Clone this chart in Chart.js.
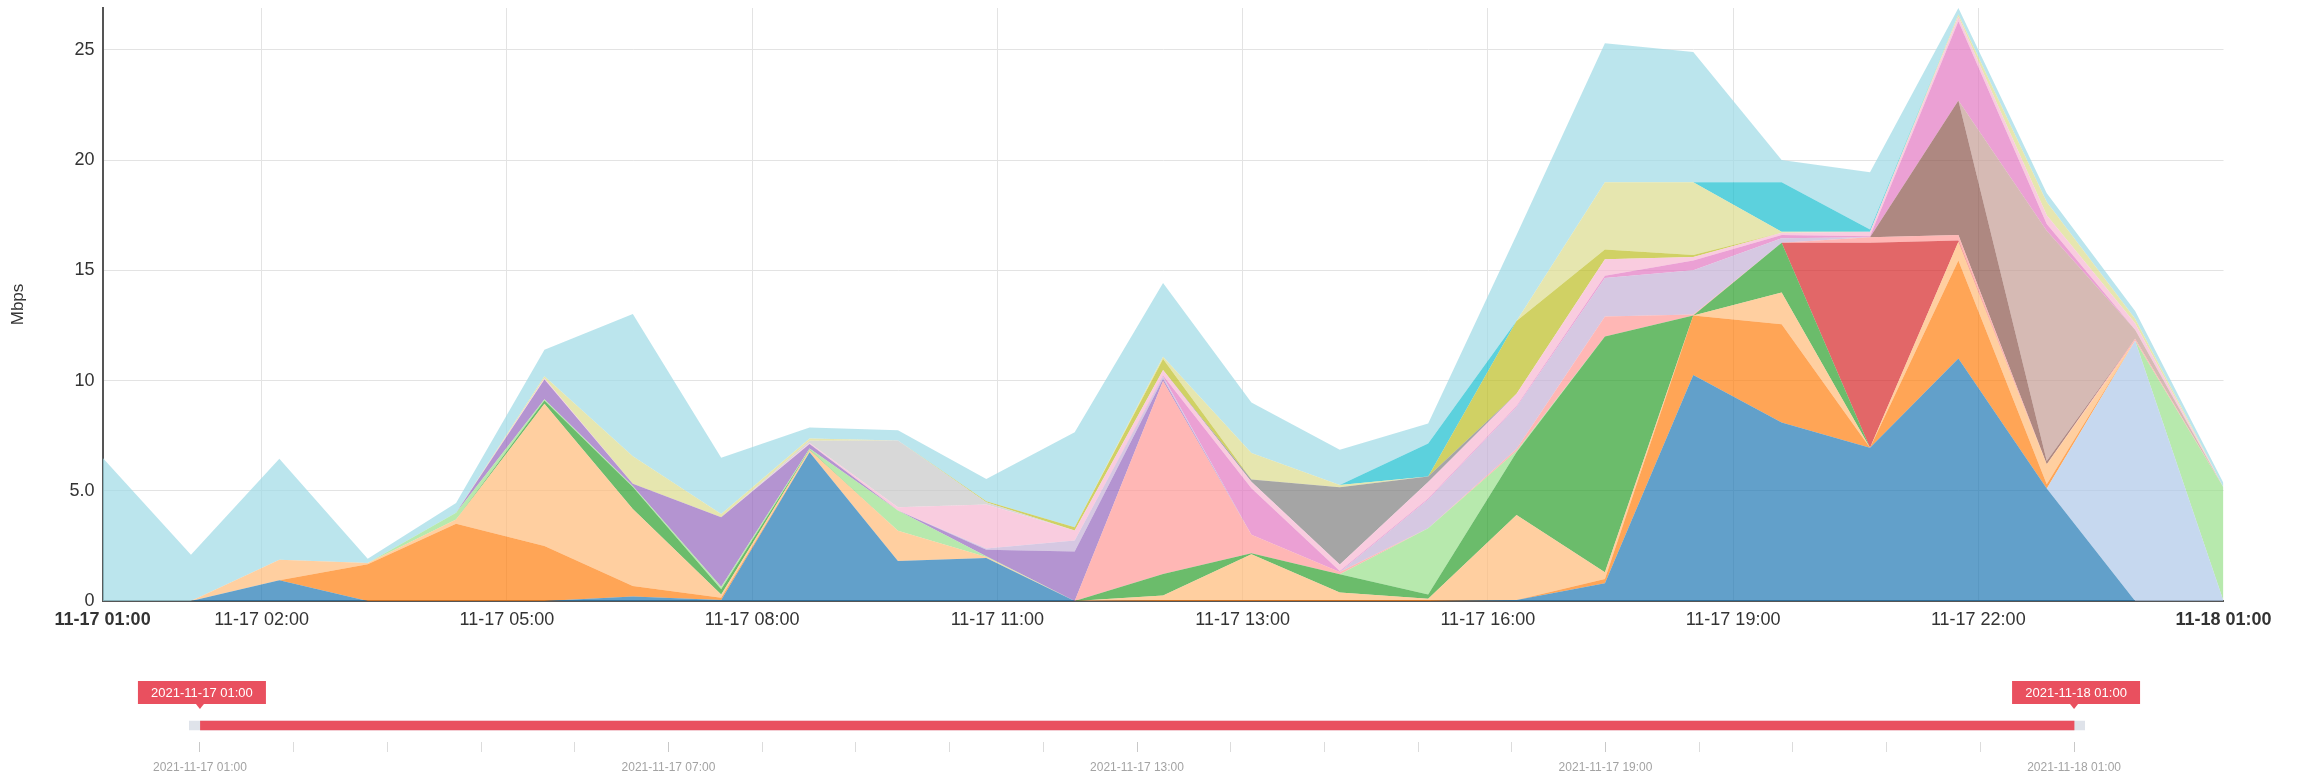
<!DOCTYPE html>
<html>
<head>
<meta charset="utf-8">
<script src="https://cdn.jsdelivr.net/npm/chart.js@4.4.0/dist/chart.umd.min.js"></script>
<style>
  html, body { margin: 0; padding: 0; background: #fff; }
  #wrap { position: relative; width: 2298px; height: 777px; }
  #main { position: absolute; left: 0; top: 0; }
  #zoom { position: absolute; left: 0; top: 650px; }
</style>
</head>
<body>
<div id="wrap">
  <canvas id="main" width="2298" height="650"></canvas>
  <canvas id="zoom" width="2298" height="127"></canvas>
</div>
<script>
// hours after 2021-11-17 01:00, one sample per hour
const hours = [0, 1, 2, 3, 4, 5, 6, 7, 8, 9, 10, 11, 12, 13, 14, 15, 16, 17, 18, 19, 20, 21, 22, 23, 24];

// x axis ticks (time axis splits the day in equal steps, labels show the hour)
const tickHours = [0, 1.8, 4.575, 7.35, 10.125, 12.9, 15.675, 18.45, 21.225, 24];
const tickLabels = ['11-17 01:00', '11-17 02:00', '11-17 05:00', '11-17 08:00', '11-17 11:00',
                    '11-17 13:00', '11-17 16:00', '11-17 19:00', '11-17 22:00', '11-18 01:00'];
const yTicks = [0, 5, 10, 15, 20, 25];

// data zoom slider
const rangeHours = [0, 24];
const rangeLabels = ['2021-11-17 01:00', '2021-11-18 01:00'];
const zoomTickHours = [0, 1.2, 2.4, 3.6, 4.8, 6, 7.2, 8.4, 9.6, 10.8, 12, 13.2, 14.4, 15.6, 16.8, 18, 19.2, 20.4, 21.6, 22.8, 24];
const zoomLabels = ['2021-11-17 01:00', '2021-11-17 07:00', '2021-11-17 13:00', '2021-11-17 19:00', '2021-11-18 01:00'];

// stacked series, bottom to top (Mbps)
const s01 = [0, 0, 0.94, 0, 0, 0, 0.2, 0.05, 6.75, 1.82, 1.95, 0, 0, 0, 0, 0, 0.05, 0.8, 10.25, 8.1, 6.95, 11.0, 5.1, 0, 0];
const s02 = [0, 0, 0, 0, 0, 0, 0, 0, 0, 0, 0, 0, 0, 0, 0, 0, 0, 0, 0, 0, 0, 0, 0, 11.8, 0];
const s03 = [0, 0, 0, 1.67, 3.5, 2.5, 0.48, 0.1, 0, 0, 0, 0, 0.05, 0.05, 0.05, 0.05, 0, 0.2, 2.7, 4.45, 0, 4.45, 0.2, 0, 0];
const s04 = [0, 0, 0.93, 0.05, 0.2, 6.45, 3.49, 0.15, 0.1, 1.37, 0.05, 0, 0.2, 2.07, 0.33, 0.05, 3.85, 0.3, 0, 1.45, 0, 0.85, 0.9, 0, 0];
const s05 = [0, 0, 0, 0, 0, 0.15, 1.0, 0.23, 0.02, 0, 0, 0, 0.98, 0.05, 0.83, 0.2, 2.85, 10.7, 0, 2.25, 0, 0, 0, 0, 0];
const s06 = [0, 0, 0, 0, 0.3, 0.05, 0.05, 0.12, 0.05, 0.91, 0.03, 0, 0, 0, 0, 3.0, 0.05, 0, 0, 0, 0, 0, 0, 0, 5.15];
const s07 = [0, 0, 0, 0, 0, 0, 0, 0, 0, 0, 0, 0, 0, 0, 0, 0, 0, 0, 0, 0, 9.3, 0.05, 0, 0, 0];
const s08 = [0, 0, 0, 0, 0, 0, 0, 0, 0, 0, 0, 0, 8.75, 0.84, 0.1, 0, 0.1, 0.9, 0.05, 0, 0.25, 0.25, 0, 0.1, 0];
const s09 = [0, 0, 0, 0, 0, 0.9, 0.1, 3.15, 0.2, 0, 0.3, 2.25, 0.1, 0, 0, 0, 0, 0, 0, 0, 0, 0, 0, 0, 0];
const s10 = [0, 0, 0, 0, 0, 0, 0, 0, 0, 0, 0.05, 0.5, 0.1, 0, 0, 1.3, 1.9, 1.75, 2.0, 0.2, 0, 0, 0, 0, 0];
const s11 = [0, 0, 0, 0, 0, 0, 0, 0, 0, 0, 0, 0, 0, 0, 0, 0, 0, 0, 0, 0, 0, 6.1, 0.15, 0, 0];
const s12 = [0, 0, 0, 0, 0, 0, 0, 0, 0, 0, 0, 0, 0, 0, 0, 0, 0, 0, 0, 0, 0, 0, 10.45, 0.4, 0];
const s13 = [0, 0, 0, 0, 0, 0, 0, 0, 0, 0, 0, 0, 0.05, 2.1, 0.05, 0.05, 0.05, 0.1, 0.45, 0.15, 0.05, 3.6, 0.3, 0, 0];
const s14 = [0, 0, 0, 0, 0, 0.05, 0, 0, 0.05, 0.15, 2.0, 0.45, 0.25, 0.3, 0.3, 0.75, 0.55, 0.75, 0.15, 0.1, 0.2, 0.2, 0.4, 0.3, 0];
const s15 = [0, 0, 0, 0, 0, 0, 0, 0, 0, 0, 0, 0, 0, 0.1, 3.5, 0.25, 0, 0, 0, 0, 0, 0, 0, 0, 0];
const s16 = [0, 0, 0, 0, 0, 0, 0, 0, 0.1, 3.03, 0.1, 0, 0, 0, 0, 0, 0, 0, 0, 0, 0, 0, 0, 0, 0];
const s17 = [0, 0, 0, 0, 0, 0, 0, 0, 0, 0, 0.05, 0.15, 0.5, 0, 0, 0, 3.3, 0.45, 0.1, 0, 0, 0, 0, 0, 0];
const s18 = [0, 0, 0, 0, 0, 0.1, 1.25, 0.15, 0.1, 0, 0, 0, 0.1, 1.2, 0.1, 0, 0, 3.05, 3.3, 0.05, 0, 0.1, 0.6, 0.2, 0];
const s19 = [0, 0, 0, 0, 0, 0, 0, 0, 0, 0, 0, 0, 0, 0, 0, 1.5, 0, 0, 0, 2.25, 0.1, 0, 0, 0, 0];
const s20 = [6.5, 2.1, 4.58, 0.2, 0.45, 1.2, 6.45, 2.55, 0.5, 0.46, 1.0, 4.3, 3.34, 2.3, 1.6, 0.9, 3.9, 6.3, 5.9, 1.0, 2.6, 0.3, 0.4, 0.35, 0.2];

const series = [s01, s02, s03, s04, s05, s06, s07, s08, s09, s10, s11, s12, s13, s14, s15, s16, s17, s18, s19, s20];

// category20 palette, drawn at 0.7 opacity
const palette = ['31,119,180', '174,199,232', '255,127,14', '255,187,120', '44,160,44', '152,223,138',
                 '214,39,40', '255,152,150', '148,103,189', '197,176,213', '140,86,75', '196,156,148',
                 '227,119,194', '247,182,210', '127,127,127', '199,199,199', '188,189,34', '219,219,141',
                 '23,190,207', '158,218,229'];

Chart.defaults.font.family = '"Liberation Sans", Arial, sans-serif';

const yMax = Math.max(...hours.map((h, j) => series.reduce((a, s) => a + s[j], 0)));
const lastTick = tickHours.length - 1;

new Chart(document.getElementById('main'), {
    type: 'line',
    data: {
        datasets: series.map((s, i) => ({
            label: 'series ' + (i + 1),
            data: s.map((v, j) => ({ x: hours[j], y: v })),
            backgroundColor: 'rgba(' + palette[i] + ',0.7)',
            borderColor: 'rgba(0,0,0,0)',
            borderWidth: 0,
            pointRadius: 0,
            tension: 0,
            fill: i === 0 ? 'origin' : '-1'
        }))
    },
    options: {
        responsive: false,
        animation: false,
        layout: { padding: { left: 0, right: 74.5, top: 8, bottom: 0 } },
        plugins: {
            legend: { display: false },
            tooltip: { enabled: false }
        },
        scales: {
            x: {
                type: 'linear',
                min: 0,
                max: 24,
                afterBuildTicks: s => { s.ticks = tickHours.map(v => ({ value: v })); },
                afterFit: s => { s.height = 49; },
                ticks: {
                    autoSkip: false,
                    maxRotation: 0,
                    padding: 8,
                    color: '#333',
                    font: ctx => ({ size: 18, weight: (ctx.index === 0 || ctx.index === lastTick) ? 'bold' : 'normal' }),
                    callback: (v, i) => tickLabels[i]
                },
                grid: {
                    drawTicks: false,
                    color: ctx => (ctx.index === 0 || ctx.index === lastTick) ? 'rgba(0,0,0,0)' : '#e3e3e3'
                },
                border: { color: '#555', width: 2 }
            },
            y: {
                stacked: true,
                min: 0,
                max: yMax,
                afterBuildTicks: s => { s.ticks = yTicks.map(v => ({ value: v })); },
                afterFit: s => { s.width = 102.6; s.paddingTop = 0; s.paddingBottom = 0; },
                ticks: {
                    padding: 8,
                    color: '#333',
                    font: { size: 18 },
                    callback: v => v === 5 ? '5.0' : String(v)
                },
                grid: {
                    drawTicks: false,
                    color: ctx => (ctx.tick && ctx.tick.value === 0) ? 'rgba(0,0,0,0)' : '#e3e3e3'
                },
                border: { color: '#555', width: 2 },
                title: {
                    display: true,
                    text: 'Mbps',
                    color: '#333',
                    font: { size: 17 },
                    padding: { top: 8, bottom: 0 }
                }
            }
        }
    }
});

// red range labels above the slider handles
const rangePins = {
    id: 'rangePins',
    afterDraw(chart) {
        const { ctx, scales: { x } } = chart;
        ctx.save();
        rangeHours.forEach((h, i) => {
            const px = x.getPixelForValue(h);
            const w = 128, hgt = 23, top = 31;
            ctx.fillStyle = '#e9505f';
            ctx.fillRect(px - w / 2 + 2, top, w, hgt);
            ctx.beginPath();
            ctx.moveTo(px - 4, top + hgt);
            ctx.lineTo(px + 4, top + hgt);
            ctx.lineTo(px, top + hgt + 5);
            ctx.closePath();
            ctx.fill();
            ctx.fillStyle = '#fff';
            ctx.font = '13px "Liberation Sans", Arial, sans-serif';
            ctx.textAlign = 'center';
            ctx.textBaseline = 'middle';
            ctx.fillText(rangeLabels[i], px + 2, top + hgt / 2 + 1);
        });
        ctx.restore();
    }
};

new Chart(document.getElementById('zoom'), {
    type: 'bar',
    data: {
        labels: ['range'],
        datasets: [
            { data: [[rangeHours[0], rangeHours[1]]], backgroundColor: '#e9505f', barThickness: 9 },
            { data: [[-0.14, 24.14]], backgroundColor: '#dfe3ea', barThickness: 9 }
        ]
    },
    options: {
        indexAxis: 'y',
        responsive: false,
        animation: false,
        datasets: { bar: { grouped: false } },
        layout: { padding: { left: 189, right: 213, top: 59, bottom: 0 } },
        plugins: {
            legend: { display: false },
            tooltip: { enabled: false }
        },
        scales: {
            y: { display: false },
            x: {
                type: 'linear',
                min: -0.14,
                max: 24.14,
                afterBuildTicks: s => { s.ticks = zoomTickHours.map(v => ({ value: v })); },
                afterFit: s => { s.height = 35; },
                ticks: {
                    autoSkip: false,
                    maxRotation: 0,
                    padding: 8,
                    color: '#a3a3a3',
                    font: { size: 12 },
                    callback: (v, i) => i % 5 === 0 ? zoomLabels[i / 5] : ''
                },
                grid: {
                    drawOnChartArea: false,
                    tickLength: 10,
                    color: ctx => ctx.index % 5 === 0 ? '#c8c8c8' : '#dcdcdc'
                },
                border: { display: false }
            }
        }
    },
    plugins: [rangePins]
});
</script>
</body>
</html>
